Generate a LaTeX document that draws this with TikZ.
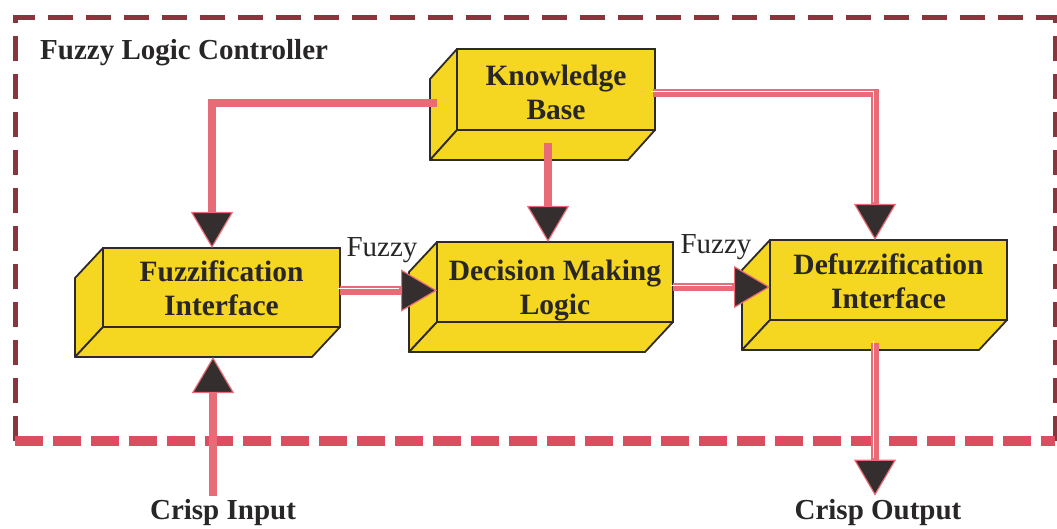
\documentclass[tikz,border=0pt]{standalone}
\usepackage{fontspec}
\setmainfont{Liberation Serif}
\usetikzlibrary{arrows.meta,calc}
\definecolor{boxyellow}{RGB}{245,214,32}
\definecolor{edgedark}{RGB}{45,42,40}
\definecolor{textdark}{RGB}{40,38,38}
\definecolor{linkpink}{RGB}{232,108,120}
\definecolor{tipdark}{RGB}{52,46,46}
\definecolor{framedark}{RGB}{140,52,62}
\definecolor{framepink}{RGB}{218,78,96}
\newcommand\cubesides[2]{%
  \draw[face] (#1.north west) -- ++(#2) -- ($(#1.south west)+(#2)$) -- (#1.south west) -- cycle;
  \draw[face] (#1.south west) -- ++(#2) -- ($(#1.south east)+(#2)$) -- (#1.south east) -- cycle;}
\newcommand\boxlab[2]{\raisebox{#1}[\height][\depth]{\begin{tabular}{@{}c@{}}#2\end{tabular}}}
\begin{document}
\begin{tikzpicture}[x=1pt,y=-1pt,
  cuboid/.style={draw=edgedark, fill=boxyellow, line width=1.8pt, inner sep=0pt, outer sep=0pt,
    text=textdark, font=\bfseries\fontsize{29.5}{34}\selectfont},
  face/.style={draw=edgedark, fill=boxyellow, line width=1.8pt, line join=round},
  conn/.style={draw=linkpink, line width=8.5pt,
    -{Triangle[length=36pt,width=42pt,line width=1.2pt,fill=tipdark]}},
  stripe/.style={postaction={draw=white, line width=0.9pt, arrows=-, shorten >=36pt,
    transform canvas={shift={(-1.8pt,1.8pt)}}}},
  outtext/.style={font=\bfseries\fontsize{29}{33}\selectfont, text=textdark, inner sep=4pt},
  fuzzylab/.style={font=\fontsize{29}{32}\selectfont, text=textdark, inner sep=0pt}
]
\useasboundingbox (0,0) rectangle (1057,529);

% frame
\draw[framedark, line width=5pt, dash pattern=on 25pt off 13pt]
  (15,441) -- (15,17.5) -- (1055,17.5) -- (1055,441);
\draw[framepink, line width=10pt, dash pattern=on 28pt off 10pt]
  (15,441) -- (1055,441);

\node[anchor=west, font=\bfseries\fontsize{29}{32}\selectfont, text=textdark, inner sep=0pt]
  (title) at (40,53) {Fuzzy Logic Controller};

% boxes
\node[cuboid, minimum width=198pt, minimum height=81pt] (kb) at (556,89.5) {\boxlab{-6pt}{Knowledge\\Base}};
\node[cuboid, minimum width=237pt, minimum height=79pt] (fz) at (221.5,287.5) {\boxlab{-4pt}{Fuzzification\\Interface}};
\node[cuboid, minimum width=236pt, minimum height=80pt] (dm) at (555,282) {\boxlab{-9pt}{Decision Making\\Logic}};
\node[cuboid, minimum width=237pt, minimum height=80pt] (dz) at (888.5,280) {\boxlab{-5pt}{Defuzzification\\Interface}};
\cubesides{kb}{-27,30}
\cubesides{fz}{-28,30}
\cubesides{dm}{-28,30}
\cubesides{dz}{-28,30}

% outer texts
\node[outtext] (ci) at (223,513) {Crisp Input};
\node[outtext] (co) at (878,513) {Crisp Output};
\node[fuzzylab] (f1) at (382,250) {Fuzzy};
\node[fuzzylab] (f2) at (716,247) {Fuzzy};

% connectors
\draw[conn] ($(kb.west)+(-20,13.5)$) -| ($(fz.north)+(-9.5,0)$);
\draw[conn] ($(kb.south)+(-8,13)$) -- ($(dm.north)+(-7,0)$);
\draw[conn, stripe] ($(kb.east)+(-2,3.5)$) -| ($(dz.north)+(-13.5,0)$);
\coordinate (a1) at ($(fz.east)+(0,3)$);
\draw[conn, stripe] (a1) -- (a1 -| dm.west);
\coordinate (a2) at ($(dm.east)+(0,5)$);
\draw[conn, stripe] (a2) -- (a2 -| dz.west);
\coordinate (fzin) at ($(fz.south)+(-8.5,30)$);
\draw[conn] (ci.north -| fzin) -- (fzin);
\coordinate (dzout) at ($(dz.south)+(-13.5,23)$);
\draw[conn, stripe] (dzout) -- (dzout |- co.north);
\end{tikzpicture}
\end{document}
